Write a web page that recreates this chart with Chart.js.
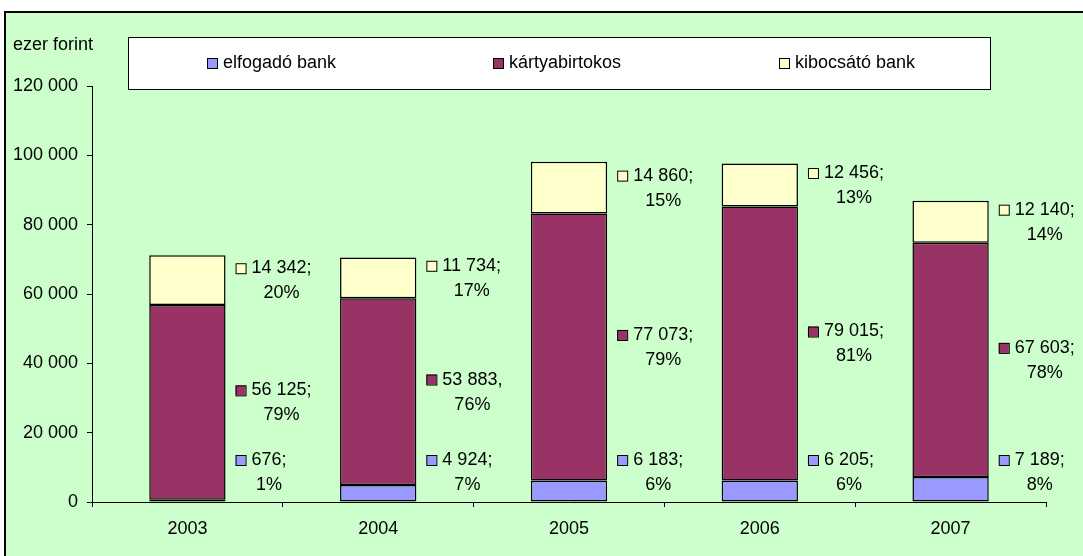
<!DOCTYPE html>
<html>
<head>
<meta charset="utf-8">
<script src="https://cdn.jsdelivr.net/npm/chart.js@4/dist/chart.umd.min.js"></script>
<style>
  body { margin: 0; background: #fff; }
  #wrap { width: 1083px; height: 556px; }
</style>
</head>
<body>
<div id="wrap"><canvas id="grafikon" width="1083" height="556"></canvas></div>
<script>
"use strict";

const evek = ["2003", "2004", "2005", "2006", "2007"];
const elfogadoBank = [676, 4924, 6183, 6205, 7189];
const kartyabirtokos = [56125, 53883, 77073, 79015, 67603];
const kibocsatoBank = [14342, 11734, 14860, 12456, 12140];
const sorozatNevek = ["elfogadó bank", "kártyabirtokos", "kibocsátó bank"];
const szinek = ["#9999FF", "#993366", "#FFFFCC"];
// the one label that uses a comma in the original
const elvalasztok = [
  [";", ";", ";", ";", ";"],
  [";", ",", ";", ";", ";"],
  [";", ";", ";", ";", ";"]
];
const betuCsalad = "'Liberation Sans', Arial, sans-serif";
const betu = "18px " + betuCsalad;

function ezres(n) {
  return String(n).replace(/\B(?=(\d{3})+(?!\d))/g, " ");
}

const hatter = {
  id: "hatter",
  beforeDraw(chart) {
    const c = chart.ctx;
    c.save();
    c.fillStyle = "#fff";
    c.fillRect(0, 0, chart.width, chart.height);
    c.fillStyle = "#CCFFCC";
    c.fillRect(5, 12, chart.width, chart.height);
    c.strokeStyle = "#000";
    c.lineWidth = 2;
    c.beginPath();
    c.moveTo(5, chart.height + 2);
    c.lineTo(5, 12);
    c.lineTo(chart.width + 2, 12);
    c.stroke();
    c.restore();
  }
};

const feliratok = {
  id: "feliratok",
  afterDraw(chart) {
    const c = chart.ctx;
    const osszes = evek.map((e, i) => elfogadoBank[i] + kartyabirtokos[i] + kibocsatoBank[i]);
    c.save();
    c.font = betu;
    c.fillStyle = "#000";
    c.textBaseline = "middle";

    // y axis title
    c.textAlign = "left";
    c.fillText("ezer forint", 13, 45);

    // legend
    c.fillStyle = "#fff";
    c.fillRect(128, 37, 862, 52);
    c.strokeStyle = "#000";
    c.lineWidth = 1;
    c.strokeRect(128.5, 37.5, 862, 52);
    const legX = [207, 493, 779];
    sorozatNevek.forEach((nev, k) => {
      c.fillStyle = szinek[k];
      c.fillRect(legX[k], 58, 10, 10);
      c.strokeStyle = "#000";
      c.strokeRect(legX[k] + 0.5, 58.5, 10, 10);
      c.fillStyle = "#000";
      c.fillText(nev, legX[k] + 16, 63);
    });

    // data labels next to each segment
    const alja = chart.chartArea.bottom;
    chart.data.datasets.forEach((ds, k) => {
      const meta = chart.getDatasetMeta(k);
      meta.data.forEach((bar, i) => {
        const p = bar.getProps(["x", "y", "base", "width"], true);
        let kozep = (p.y + p.base) / 2;
        if (kozep > alja - 30) kozep = alja - 30;
        const sor1 = ezres(ds.data[i]) + elvalasztok[k][i];
        const sor2 = Math.round(ds.data[i] / osszes[i] * 100) + "%";
        const mx = p.x + p.width / 2 + 10;
        const y1 = kozep - 12;
        const y2 = kozep + 13;
        c.fillStyle = szinek[k];
        c.fillRect(mx, y1 - 5, 10, 10);
        c.strokeStyle = "#000";
        c.strokeRect(mx + 0.5, y1 - 4.5, 10, 10);
        c.fillStyle = "#000";
        c.textAlign = "left";
        const tx = mx + 16;
        c.fillText(sor1, tx, y1);
        const w = c.measureText(sor1).width;
        c.textAlign = "center";
        c.fillText(sor2, tx + w / 2, y2);
      });
    });
    c.restore();
  }
};

const ctx = document.getElementById("grafikon");
const myChart = new Chart(ctx, {
  type: "bar",
  data: {
    labels: evek,
    datasets: [elfogadoBank, kartyabirtokos, kibocsatoBank].map((adat, k) => ({
      label: sorozatNevek[k],
      data: adat,
      backgroundColor: szinek[k],
      borderColor: "#000",
      borderWidth: 1.5,
      borderSkipped: false,
      barPercentage: 0.4,
      categoryPercentage: 1
    }))
  },
  plugins: [hatter, feliratok],
  options: {
    responsive: false,
    animation: false,
    layout: { padding: { left: 0, right: 37, top: 86, bottom: 0 } },
    plugins: {
      legend: { display: false },
      tooltip: { enabled: false }
    },
    scales: {
      x: {
        stacked: true,
        offset: true,
        afterFit: s => { s.height = 54; },
        grid: {
          offset: true,
          drawOnChartArea: false,
          drawTicks: true,
          tickLength: 5,
          color: "#000"
        },
        border: { display: true, color: "#000", width: 1 },
        ticks: { color: "#000", font: { family: betuCsalad, size: 18 }, padding: 11 }
      },
      y: {
        stacked: true,
        min: 0,
        max: 120000,
        afterFit: s => { s.width = 92; },
        grid: {
          drawOnChartArea: false,
          drawTicks: true,
          tickLength: 5,
          color: "#000"
        },
        border: { display: true, color: "#000", width: 1 },
        ticks: {
          stepSize: 20000,
          color: "#000",
          padding: 9,
          font: { family: betuCsalad, size: 18 },
          callback: v => ezres(v)
        }
      }
    }
  }
});
</script>
</body>
</html>
